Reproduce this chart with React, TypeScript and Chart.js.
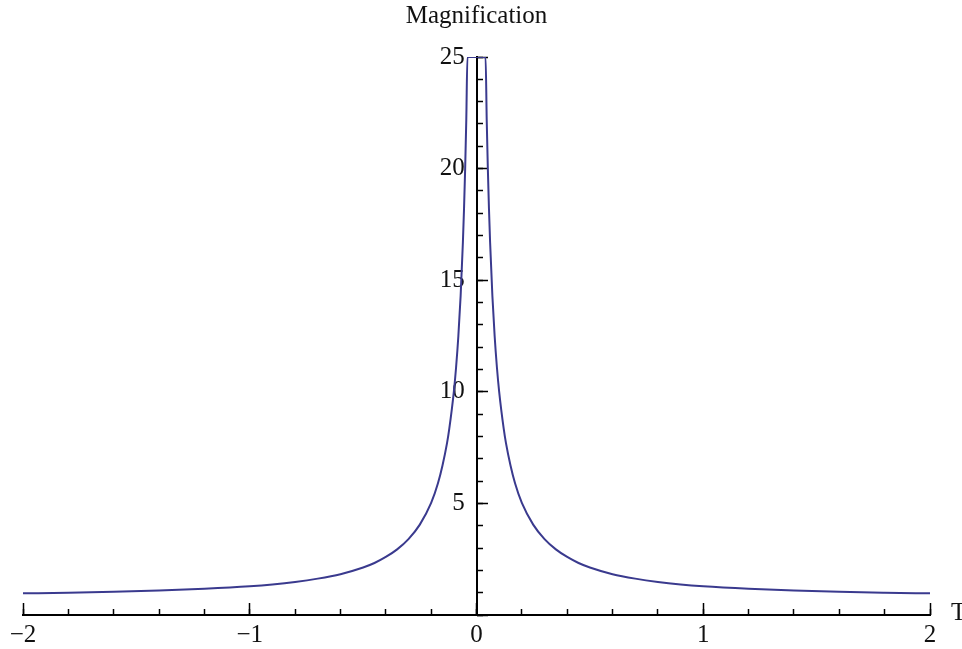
import React, { useEffect, useRef } from "react";
import { Chart, registerables } from "chart.js";

Chart.register(...registerables);

// Time (in Einstein crossing times) and magnification
const timeValues = [
  -2, -1.8, -1.6, -1.4, -1.2, -1.0, -0.9, -0.8, -0.7, -0.6, -0.5, -0.45, -0.4,
  -0.35, -0.3, -0.25, -0.2, -0.17, -0.15, -0.13, -0.12, -0.1, -0.09, -0.08,
  -0.07, -0.06, -0.055, -0.05, -0.045, -0.04, 0, 0.04, 0.045, 0.05, 0.055,
  0.06, 0.07, 0.08, 0.09, 0.1, 0.12, 0.13, 0.15, 0.17, 0.2, 0.25, 0.3, 0.35,
  0.4, 0.45, 0.5, 0.6, 0.7, 0.8, 0.9, 1.0, 1.2, 1.4, 1.6, 1.8, 2,
];
const magnificationValues = [
  0.97, 1.0, 1.04, 1.1, 1.18, 1.29, 1.37, 1.48, 1.63, 1.83, 2.13, 2.33, 2.6,
  2.94, 3.4, 4.05, 5.02, 5.9, 6.7, 7.7, 8.35, 10.0, 11.1, 12.5, 14.3, 16.7,
  18.2, 20.0, 22.2, 25, 25, 25, 22.2, 20.0, 18.2, 16.7, 14.3, 12.5, 11.1, 10.0,
  8.35, 7.7, 6.7, 5.9, 5.02, 4.05, 3.4, 2.94, 2.6, 2.33, 2.13, 1.83, 1.63,
  1.48, 1.37, 1.29, 1.18, 1.1, 1.04, 1.0, 0.97,
];

const xRange = [-2, 2];
const yRange = [0, 25];
const xMajorStep = 1;
const xMinorStep = 0.2;
const yMajorStep = 5;
const yMinorStep = 1;

const yAxisTitle = "Magnification";
const xAxisTitle = "T";

const FONT = "'Liberation Serif', 'Times New Roman', serif";
const TEXT_COLOR = "#111111";
const AXIS_COLOR = "#000000";
const CURVE_COLOR = "#3a3a8e";

const formatTick = (v: number) =>
  v < 0 ? "\u2212" + String(Math.abs(v)) : String(v);

const axisTitlesPlugin = {
  id: "axisTitles",
  afterDraw(chart: any) {
    const { ctx, scales } = chart;
    const xs = scales.x;
    const ys = scales.y;
    ctx.save();
    ctx.fillStyle = TEXT_COLOR;
    ctx.font = `25px ${FONT}`;
    ctx.textBaseline = "alphabetic";
    ctx.textAlign = "center";
    ctx.fillText(yAxisTitle, xs.getPixelForValue(0), ys.getPixelForValue(yRange[1]) - 34);
    ctx.textAlign = "left";
    ctx.fillText(xAxisTitle, xs.getPixelForValue(xRange[1]) + 21, ys.getPixelForValue(0) + 5);
    ctx.restore();
  },
};

// scale that only draws inward tick marks (no labels, no axis line)
const markScale = (range: number[], step: number, len: number, pos: any) => ({
  type: "linear",
  min: range[0],
  max: range[1],
  position: pos,
  ticks: { stepSize: step, display: false },
  grid: {
    drawOnChartArea: false,
    drawTicks: true,
    tickLength: -len,
    tickWidth: 1.5,
    tickColor: AXIS_COLOR,
  },
  border: { display: false },
});

export default function App() {
  const canvasRef = useRef<HTMLCanvasElement | null>(null);

  useEffect(() => {
    if (!canvasRef.current) return;
    const points = timeValues.map((t, i) => ({ x: t, y: magnificationValues[i] }));
    const chart = new Chart(canvasRef.current, {
      type: "line",
      data: {
        datasets: [
          {
            data: points,
            borderColor: CURVE_COLOR,
            borderWidth: 2,
            pointRadius: 0,
            fill: false,
            cubicInterpolationMode: "monotone",
            xAxisID: "x",
            yAxisID: "y",
          },
        ],
      },
      options: {
        responsive: false,
        maintainAspectRatio: false,
        devicePixelRatio: 1,
        animation: false,
        events: [],
        layout: { padding: { left: 23, right: 32, top: 57, bottom: 34 } },
        plugins: {
          legend: { display: false },
          tooltip: { enabled: false },
          title: { display: false },
        },
        scales: {
          x: {
            type: "linear",
            min: xRange[0],
            max: xRange[1],
            position: { y: 0 } as any,
            ticks: {
              stepSize: xMajorStep,
              padding: 5,
              color: TEXT_COLOR,
              font: { family: FONT, size: 25 },
              maxRotation: 0,
              autoSkip: false,
              callback: (v: any) => formatTick(Number(v)),
            },
            grid: { drawOnChartArea: false, drawTicks: false },
            border: { display: true, color: AXIS_COLOR, width: 2 },
          },
          xMajor: markScale(xRange, xMajorStep, 12, { y: 0 }),
          xMinor: markScale(xRange, xMinorStep, 6, { y: 0 }),
          // value scale: its labels sit just left of the axis line
          y: {
            type: "linear",
            min: yRange[0],
            max: yRange[1],
            position: { x: -0.052 } as any,
            ticks: {
              stepSize: yMajorStep,
              padding: 0,
              color: TEXT_COLOR,
              font: { family: FONT, size: 25 },
              autoSkip: false,
              callback: (v: any) => (Number(v) === 0 ? "" : formatTick(Number(v))),
            },
            grid: { drawOnChartArea: false, drawTicks: false },
            border: { display: false },
          },
          yLine: {
            type: "linear",
            min: yRange[0],
            max: yRange[1],
            position: { x: 0 } as any,
            ticks: { display: false },
            grid: { drawOnChartArea: false, drawTicks: false },
            border: { display: true, color: AXIS_COLOR, width: 2 },
          },
          yMajor: markScale(yRange, yMajorStep, 11, { x: 0 }),
          yMinor: markScale(yRange, yMinorStep, 6, { x: 0 }),
        } as any,
      },
      plugins: [axisTitlesPlugin],
    });
    return () => chart.destroy();
  }, []);

  return (
    <div
      style={{
        position: "fixed",
        left: 0,
        top: 0,
        width: 962,
        height: 649,
        background: "#ffffff",
      }}
    >
      <canvas ref={canvasRef} width={962} height={649} style={{ display: "block" }} />
    </div>
  );
}
